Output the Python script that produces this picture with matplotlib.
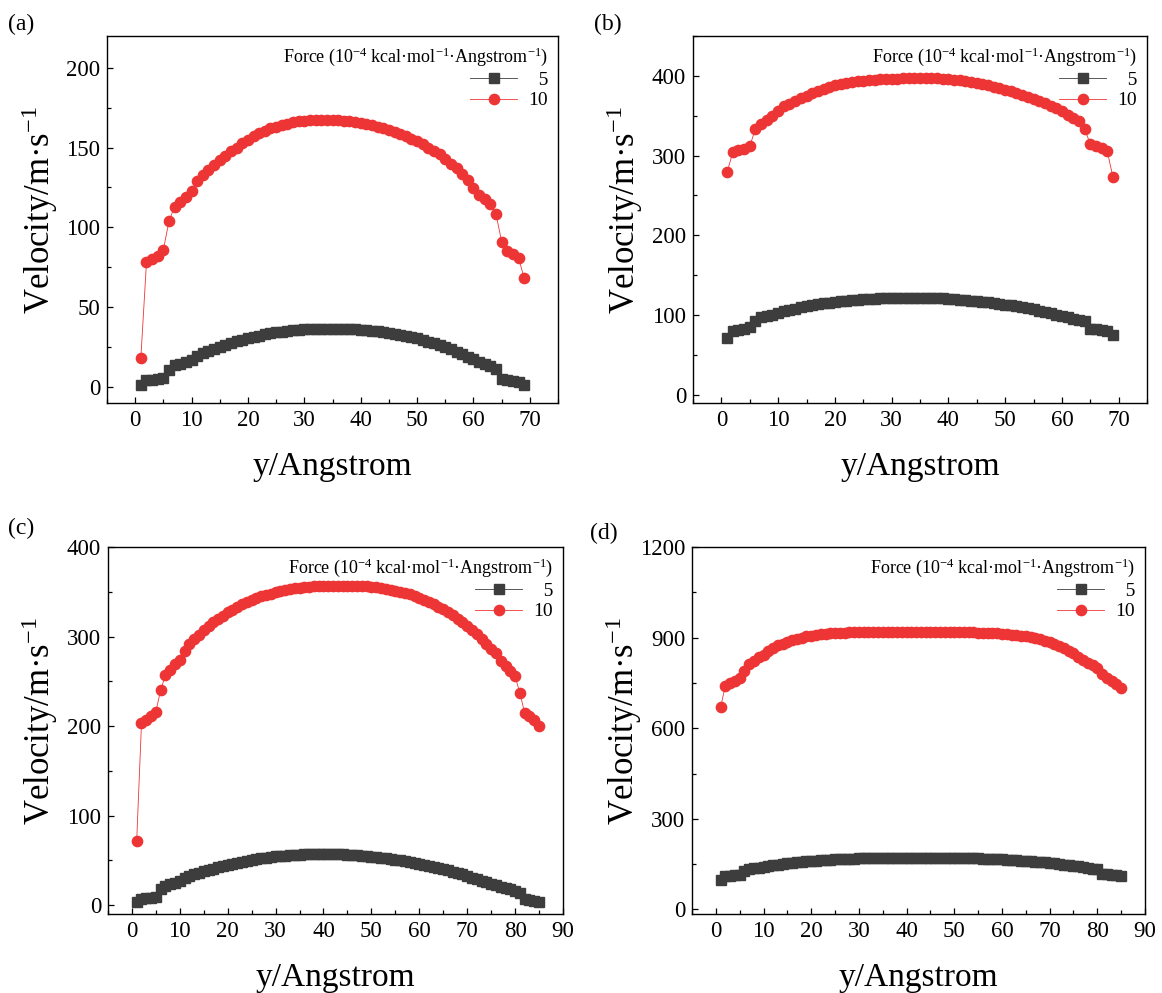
import matplotlib
matplotlib.use("Agg")
import matplotlib.pyplot as plt
from matplotlib.ticker import MultipleLocator

plt.rcParams['font.family'] = ['Liberation Serif', 'DejaVu Serif']
plt.rcParams['mathtext.fontset'] = 'custom'
plt.rcParams['mathtext.rm'] = 'Liberation Serif'
plt.rcParams['mathtext.it'] = 'Liberation Serif:italic'

# ---- data ----
y_a = list(range(1, 70))
v_a_5 = [1, 4, 4.2, 4.6, 5.3, 10.5, 13.5, 14.5, 15.8, 17, 19.5, 21, 22.3, 23.6, 25, 26.2, 27.4, 28.5, 29.5, 30.4,
         31.3, 32.1, 32.9, 33.5, 34.1, 34.6, 35, 35.4, 35.7, 35.9, 36.1, 36.2, 36.3, 36.4, 36.2, 36.1, 36, 36, 35.9, 35.8,
         35.5, 35.2, 34.8, 34.4, 33.9, 33.3, 32.7, 32, 31.2, 30.3, 29.3, 28.3, 27.2, 26, 24.7, 23.4, 22, 20.5, 18.9, 17.3,
         15.6, 14.2, 13, 11, 5, 4.2, 3.5, 2.8, 1]
v_a_10 = [18, 78, 80, 82, 86, 104, 113, 116, 119, 123, 129, 133, 136, 139, 142, 145, 148, 150, 153, 155,
          157, 159, 160.5, 162, 163, 164, 165, 166, 166.5, 167, 167.3, 167.5, 167.6, 167.6, 167.4, 167.2, 167, 166.6, 166.2, 165.5,
          165, 164, 163, 162, 161, 160, 158.5, 157, 155.5, 154, 152, 150, 148, 146, 143, 140, 137, 133.5, 130, 124.5,
          120.5, 117.5, 114.5, 108.5, 91, 85, 83, 81, 68]

y_b = list(range(1, 70))
v_b_5 = [71, 79.5, 81.5, 82.5, 84.5, 93, 97.5, 99, 100.5, 102.5, 104.5, 106.5, 108, 109.5, 111, 112.5, 113.7, 114.7, 115.6, 116.4,
         117.2, 117.9, 118.5, 119, 119.5, 120, 120.4, 120.8, 121.1, 121.4, 121.6, 121.8, 121.9, 121.9, 121.8, 121.6, 121.4, 121.1, 120.8, 120.4,
         119.9, 119.4, 118.8, 118.1, 117.4, 116.6, 115.8, 114.9, 114, 113, 112, 110.9, 109.7, 108.4, 107, 105.5, 104, 102.3, 100.5, 98.7,
         97, 95.5, 94, 92.5, 83, 82, 81, 80, 75]
v_b_10 = [279, 304, 306.7, 308.8, 311.7, 333.5, 340, 345, 350, 355.6, 362, 365, 369, 372, 375, 378.7, 381, 383.7, 386, 388,
          390, 391, 392.5, 393.3, 394, 395, 395.4, 395.8, 396, 396.3, 396.7, 396.8, 397, 397.2, 397.5, 397.5, 397.4, 397, 396.7, 396.2,
          395.4, 394.6, 393.7, 392.5, 391.2, 390, 388.3, 386.6, 385, 382.8, 380.7, 378.7, 376, 373.6, 371, 368.6, 366, 362.8, 359.8, 355.6,
          351.5, 347.3, 343, 333.5, 314.6, 311.7, 309.6, 305.4, 272.8]

y_c = list(range(1, 86))
v_c_5 = [3.7, 6.3, 7.5, 8.2, 9.3, 17.5, 21, 23, 25, 27.2, 30.6, 32.5, 34.3, 36.2, 37.7, 39.2, 40.7, 42.2, 43.7, 44.8,
         46.3, 47.4, 48.5, 49.6, 50.7, 51.5, 52.2, 53, 53.7, 54.5, 54.9, 55.2, 55.6, 56, 56.3, 56.7, 56.8, 57.1, 57.1, 57.1,
         57.1, 57, 56.8, 56.7, 56.3, 56, 55.6, 55.2, 54.8, 54.1, 53.6, 53, 52.2, 51.5, 50.7, 50, 49.3, 48.1, 47.4, 46.3,
         45.1, 44, 42.9, 41.4, 40.3, 38.8, 37.3, 35.8, 34.3, 32.5, 30.6, 28.7, 26.9, 25.4, 23.5, 22, 20.5, 19, 17.5, 15.7,
         13.8, 6.3, 5.6, 4.9, 3.7]
v_c_10 = [71.6, 203, 207, 211, 216, 240, 257, 263, 269, 274, 284, 292, 297.5, 302, 307, 311.5, 315.7, 319.8, 323.5, 327,
          330, 333, 335.8, 338.4, 340.7, 343, 344.8, 346.6, 348, 349.6, 350.7, 351.9, 353, 353.7, 354.5, 355.2, 355.6, 356, 356.3, 356.6,
          356.8, 357, 357, 357, 357, 356.8, 356.6, 356.3, 356, 355.5, 354.9, 354.2, 353.4, 352.3, 351.1, 349.9, 348.5, 347, 345.2, 343.3,
          341.1, 338.8, 336.2, 333.5, 330.5, 327.2, 323.7, 320, 316, 311.8, 307.2, 302.3, 297, 291.5, 286.5, 281.7, 272.4, 267, 262, 255.6,
          237, 214.6, 210.8, 206.3, 200.4]

y_d = list(range(1, 86))
v_d_5 = [96, 110, 111, 112.5, 114, 127, 133, 136, 138.5, 141, 144, 146.5, 148.7, 150.8, 152.7, 154.5, 156.2, 157.8, 159.2, 160.5,
         161.7, 162.8, 163.8, 164.7, 165.6, 166.4, 167.1, 167.8, 168.4, 168.9, 169.4, 169.8, 170.2, 170.5, 170.8, 171, 171.2, 171.4, 171.5, 171.6,
         171.7, 171.7, 171.7, 171.7, 171.6, 171.5, 171.4, 171.2, 171, 170.8, 170.5, 170.2, 169.8, 169.4, 168.9, 168.4, 167.8, 167.2, 166.5, 165.7,
         164.9, 164, 163, 162, 160.9, 159.7, 158.4, 157, 155.5, 153.9, 152.2, 150.4, 148.5, 146.5, 144.4, 142.2, 139.9, 137.5, 135, 132.3,
         118, 116, 114.5, 113, 111]
v_d_10 = [669, 741, 750, 758, 765, 788, 813, 824, 835, 843, 857, 866, 874, 880, 886, 891, 896, 900, 904, 907,
          909, 911, 913, 914.5, 915.5, 916.3, 917, 917.5, 918, 918.4, 918.7, 919, 919.2, 919.4, 919.5, 919.6, 919.7, 919.8, 919.8, 919.8,
          919.8, 919.8, 919.7, 919.6, 919.5, 919.4, 919.3, 919.1, 918.9, 918.7, 918.4, 918.1, 917.7, 917.3, 916.8, 916.2, 915.5, 914.7, 913.8, 912.7,
          911.4, 910, 908.3, 906.4, 904.2, 901.5, 898.5, 894.8, 890.5, 885.5, 879.8, 873, 865.5, 857, 847.5, 837.5, 827, 817, 809, 801,
          778, 766, 756, 746, 734]

force_labels = ['  5', '10']
legend_title = r'Force (10$^{-4}$ kcal·mol$^{-1}$·Angstrom$^{-1}$)'

GRAY = '#3d3d3d'
RED = '#ee3535'


def draw_panel(ax, y, v5, v10, xlim, ylim, xmajor, ymajor):
    ax.plot(y, v5, color=GRAY, lw=0.6, marker='s', ms=6.8, mec=GRAY, mfc=GRAY, label=force_labels[0])
    ax.plot(y, v10, color=RED, lw=0.6, marker='o', ms=7.4, mec=RED, mfc=RED, label=force_labels[1])
    ax.set_xlim(*xlim)
    ax.set_ylim(*ylim)
    ax.xaxis.set_major_locator(MultipleLocator(xmajor))
    ax.xaxis.set_minor_locator(MultipleLocator(xmajor / 2))
    ax.yaxis.set_major_locator(MultipleLocator(ymajor))
    ax.yaxis.set_minor_locator(MultipleLocator(ymajor / 2))
    ax.tick_params(which='both', direction='in', top=False, right=False, width=0.9, labelsize=16.5)
    ax.tick_params(which='major', length=4.5)
    ax.tick_params(which='minor', length=2.8)
    ax.tick_params(axis='x', pad=5)
    ax.tick_params(axis='y', pad=5)
    for s in ax.spines.values():
        s.set_linewidth(1.0)
    ax.set_xlabel('y/Angstrom', fontsize=24, labelpad=15)
    ax.set_ylabel(r'Velocity/m·s$^{-1}$', fontsize=25, labelpad=2)
    ax.yaxis.set_label_coords(-0.105, 0.525)
    leg = ax.legend(title=legend_title, loc='upper right', frameon=False, fontsize=14,
                    title_fontsize=13, alignment='right', handlelength=2.4,
                    handletextpad=0.6, labelspacing=0.15, borderaxespad=0.3,
                    borderpad=0.2)
    return leg


fig = plt.figure(figsize=(11.62, 9.93), dpi=100)
ax_a = fig.add_axes([0.0921, 0.5945, 0.3881, 0.3692])
ax_b = fig.add_axes([0.5964, 0.5945, 0.3907, 0.3692])
ax_c = fig.add_axes([0.0929, 0.0796, 0.3916, 0.3695])
ax_d = fig.add_axes([0.5955, 0.0796, 0.3899, 0.3695])

draw_panel(ax_a, y_a, v_a_5, v_a_10, (-5, 75), (-10, 220), 10, 50)
draw_panel(ax_b, y_b, v_b_5, v_b_10, (-5, 75), (-10, 450), 10, 100)
draw_panel(ax_c, y_c, v_c_5, v_c_10, (-5, 90), (-10, 400), 10, 100)
draw_panel(ax_d, y_d, v_d_5, v_d_10, (-5, 90), (-15, 1200), 10, 300)

fig.text(0.007, 0.975, '(a)', fontsize=17, va='center', ha='left')
fig.text(0.511, 0.975, '(b)', fontsize=17, va='center', ha='left')
fig.text(0.007, 0.468, '(c)', fontsize=17, va='center', ha='left')
fig.text(0.508, 0.463, '(d)', fontsize=17, va='center', ha='left')

fig.savefig('out.png', dpi=100)
